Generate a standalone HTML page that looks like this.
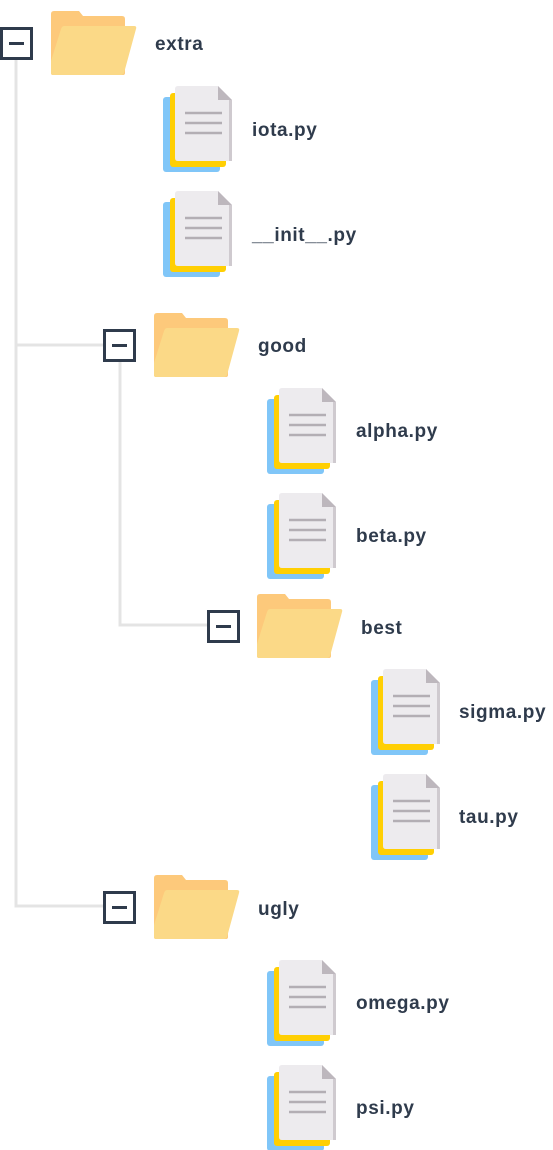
<!DOCTYPE html>
<html><head><meta charset="utf-8"><style>
html,body{margin:0;padding:0;background:#fff;}
svg{display:block}
text{font-family:"Liberation Sans",sans-serif;font-weight:bold;font-size:19px;letter-spacing:0.6px;fill:#2f3b4c;}
</style></head><body>
<svg width="553" height="1150" viewBox="0 0 553 1150" xmlns="http://www.w3.org/2000/svg">
<defs>
<g id="folder">
<path d="M3,0 H28 L32,5 H71 Q74,5 74,8 V62 Q74,64 72,64 H2 Q0,64 0,62 V3 Q0,0 3,0 Z" fill="#FDC97B"/>
<path d="M13,15 H83 Q86,15 85,18 L73,62 Q72,64 70,64 H2 Q0,64 0,62 V50 L10,18 Q11,15 13,15 Z" fill="#FBD987"/>
</g>
<g id="file">
<rect x="0" y="11" width="57" height="75" rx="3" fill="#80C6F8"/>
<rect x="7" y="7" width="56" height="74" rx="3" fill="#FFCF03"/>
<path d="M15,0 H55 L69,14 V72 Q69,75 66,75 H15 Q12,75 12,72 V3 Q12,0 15,0 Z" fill="#EDEBEE"/>
<rect x="66" y="14" width="3" height="61" fill="#CFCACF"/>
<path d="M55,0 V14 H69 Z" fill="#BDB7BD"/>
<g stroke="#B3AEB4" stroke-width="2.5">
<line x1="22" y1="27" x2="59" y2="27"/><line x1="22" y1="37" x2="59" y2="37"/><line x1="22" y1="47" x2="59" y2="47"/>
</g>
</g>
<g id="box">
<rect x="1.5" y="1.5" width="30" height="30" fill="#fff" stroke="#2f3b4c" stroke-width="3"/>
<rect x="9" y="15" width="15" height="3" fill="#2f3b4c"/>
</g>
</defs>
<g stroke="#e4e4e4" stroke-width="3" fill="none">
<path d="M16,59 V906 H104"/>
<path d="M16,345 H104"/>
<path d="M120,362 V625 H207"/>
</g>
<use href="#box" x="0" y="27"/><use href="#folder" x="51" y="11"/><text x="155" y="50">extra</text>
<use href="#file" x="163" y="86"/><text x="252" y="136">iota.py</text>
<use href="#file" x="163" y="191"/><text x="252" y="241">__init__.py</text>
<use href="#box" x="103" y="329"/><use href="#folder" x="154" y="313"/><text x="258" y="352">good</text>
<use href="#file" x="267" y="388"/><text x="356" y="437">alpha.py</text>
<use href="#file" x="267" y="493"/><text x="356" y="542">beta.py</text>
<use href="#box" x="207" y="610"/><use href="#folder" x="257" y="594"/><text x="361" y="634">best</text>
<use href="#file" x="371" y="669"/><text x="459" y="718">sigma.py</text>
<use href="#file" x="371" y="774"/><text x="459" y="823">tau.py</text>
<use href="#box" x="103" y="891"/><use href="#folder" x="154" y="875"/><text x="258" y="915">ugly</text>
<use href="#file" x="267" y="960"/><text x="356" y="1009">omega.py</text>
<use href="#file" x="267" y="1065"/><text x="356" y="1114">psi.py</text>
</svg>
</body></html>
